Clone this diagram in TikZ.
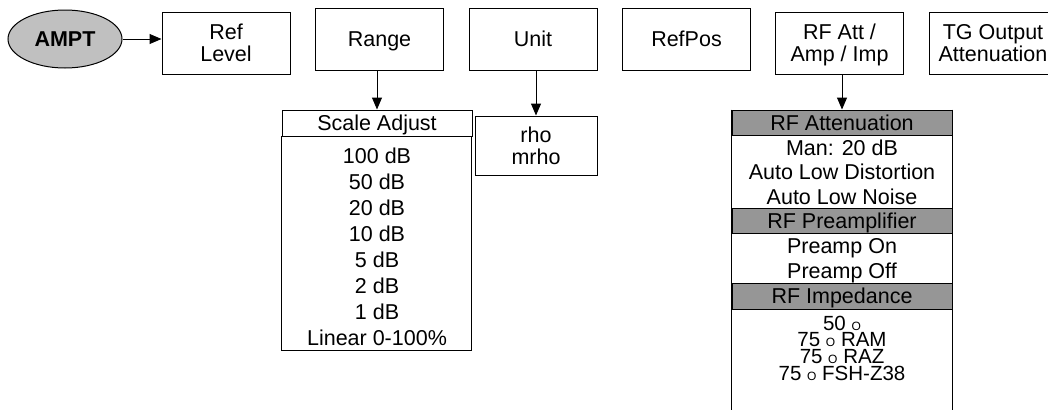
\documentclass[tikz,border=0pt]{standalone}
\usepackage{fontspec}
\setmainfont{Liberation Sans}
\usetikzlibrary{arrows.meta,shapes.geometric}
\definecolor{keygray}{RGB}{192,192,192}
\definecolor{hdrgray}{RGB}{150,150,150}
\newcommand{\ohmO}{{\fontsize{12}{12}\selectfont O}}
\tikzset{
  menubox/.style={draw, minimum width=128pt, minimum height=62pt, align=center,
    inner sep=0pt, text depth=0pt},
  listhdr/.style={draw, inner sep=0pt, text height=15pt, text depth=0pt},
  listitem/.style={anchor=base, inner sep=0pt},
  impitem/.style={listitem, font=\fontsize{20.5}{21}\selectfont, text height=14pt, text depth=0pt},
  menuarrow/.style={-{Triangle[length=12pt,width=10pt]}},
}
\begin{document}
\begin{tikzpicture}[x=1pt, y=-1pt, line width=1pt,
    every node/.style={font=\fontsize{21.5}{22}\selectfont}]
  \useasboundingbox (0,0) rectangle (1048,410);
  % Tuş ve üst menü
  \node[ellipse, draw, fill=keygray, minimum width=114pt, minimum height=58pt,
    inner sep=0pt, font=\fontsize{21.5}{22}\selectfont\bfseries] (ampt) at (65,39) {AMPT};
  \node[menubox, yshift=-4pt] (reflevel) at (226,39) {Ref\\Level};
  \node[menubox] (range) at (379.5,39) {Range};
  \node[menubox] (unit) at (533,39) {Unit};
  \node[menubox] (refpos) at (686.5,39) {RefPos};
  \node[menubox, yshift=-4pt] (rfatt) at (839.5,39) {RF Att /\\Amp / Imp};
  \node[menubox, yshift=-4pt] (tgout) at (993,39) {TG Output\\Attenuation};
  \draw[menuarrow] (ampt) -- (reflevel.west |- ampt.east);
  % Range alt menüsü
  \node[listhdr, minimum width=190pt, minimum height=26pt] (scalehdr) at (377,123) {Scale Adjust};
  \draw (scalehdr.south west) rectangle ++(190,214);
  \foreach \lbl [count=\i] in {100 dB, 50 dB, 20 dB, 10 dB, 5 dB, 2 dB, 1 dB, Linear 0-100\%}
    \node[listitem] (scale\i) at (377,137+26*\i) {\lbl};
  \draw[menuarrow] (range.south -| scalehdr.north) -- (scalehdr.north);
  % Unit alt menüsü
  \node[draw, minimum width=122pt, minimum height=59pt, align=center, inner sep=0pt,
    text depth=0pt, yshift=-3pt] (unitlist) at (536,142.5) {rho\\mrho};
  \draw[menuarrow] (unit.south -| unitlist.north) -- (unitlist.north);
  % RF alt menüsü
  \node[listhdr, fill=hdrgray, minimum width=220pt, minimum height=25pt] (atthdr) at (842,122.5) {RF Attenuation};
  \node[listhdr, fill=hdrgray, minimum width=220pt, minimum height=25pt] (amphdr) at (842,220.5) {RF Preamplifier};
  \node[listhdr, fill=hdrgray, minimum width=220pt, minimum height=26pt] (imphdr) at (842,296) {RF Impedance};
  \draw (atthdr.north west) -- ++(0,300) (atthdr.north east) -- ++(0,300);
  \node[listitem] (attman) at (842,155) {Man: 20 dB};
  \node[listitem] (attdist) at (842,179.5) {Auto Low Distortion};
  \node[listitem] (attnoise) at (842,204) {Auto Low Noise};
  \node[listitem] (ampon) at (842,253) {Preamp On};
  \node[listitem] (ampoff) at (842,278) {Preamp Off};
  \node[impitem] (imp50) at (842,330) {50 \ohmO};
  \node[impitem] (imp75ram) at (842,346.7) {75 \ohmO{} RAM};
  \node[impitem] (imp75raz) at (842,363.3) {75 \ohmO{} RAZ};
  \node[impitem] (imp75fsh) at (842,380) {75 \ohmO{} FSH-Z38};
  \draw[menuarrow] (rfatt.south -| atthdr.north) -- (atthdr.north);
\end{tikzpicture}
\end{document}
